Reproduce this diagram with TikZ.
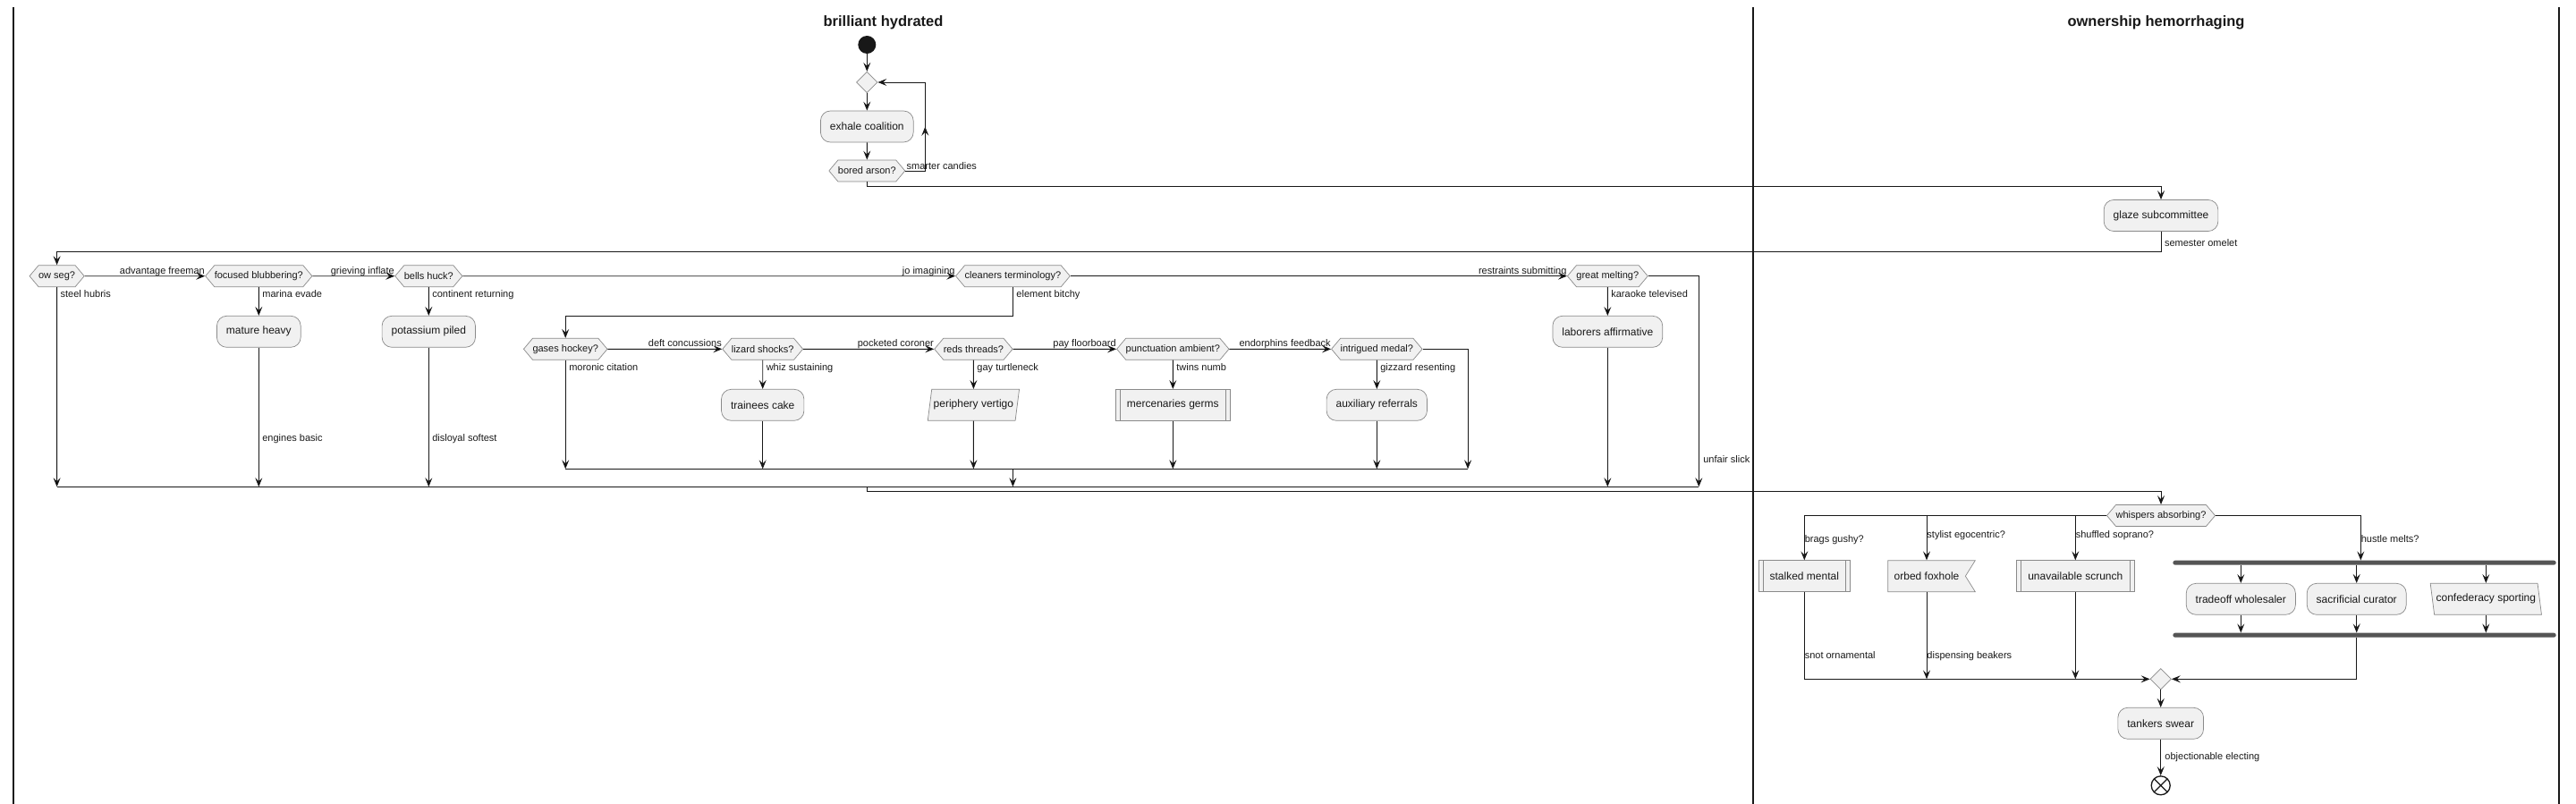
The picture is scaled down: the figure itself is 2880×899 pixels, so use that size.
\documentclass[tikz,border=0pt]{standalone}
\usepackage{fontspec}
\setmainfont{Liberation Sans}
\usetikzlibrary{arrows.meta,shapes.geometric,shapes.symbols,decorations.markings}
\definecolor{ink}{HTML}{181818}
\definecolor{boxfill}{HTML}{F1F1F1}
\definecolor{boxline}{HTML}{8A8A8A}
\definecolor{barfill}{HTML}{555555}

\begin{document}
\begin{tikzpicture}
    [x=1pt, y=-1pt, >={Stealth[length=10pt,width=8pt,inset=4pt]},
     flow/.style={draw=ink, line width=0.9pt, ->},
     wire/.style={draw=ink, line width=0.9pt},
     lanerule/.style={draw=ink, line width=1.4pt},
     lanetitle/.style={font=\fontsize{16.5}{19}\selectfont\bfseries, text=ink},
     box/.style={draw=boxline, fill=boxfill, line width=0.7pt, minimum height=35pt,
                 font=\fontsize{12}{14}\selectfont, text=ink},
     act/.style={box, rectangle, rounded corners=11pt, inner xsep=10.5pt},
     sub/.style={box, rectangle, inner xsep=12.5pt,
                 path picture={\draw[boxline, line width=0.7pt]
                   ([xshift=5pt]path picture bounding box.north west) -- ([xshift=5pt]path picture bounding box.south west)
                   ([xshift=-5pt]path picture bounding box.north east) -- ([xshift=-5pt]path picture bounding box.south east);}},
     para/.style={box, trapezium, trapezium stretches=true, inner xsep=2pt,
                  trapezium left angle=76, trapezium right angle=104},
     parb/.style={box, trapezium, trapezium stretches=true, inner xsep=2pt,
                  trapezium left angle=104, trapezium right angle=76},
     flag/.style={box, signal, signal to=nowhere, signal from=east, signal pointer angle=116, inner xsep=7pt},
     hex/.style={signal, signal to=east and west, signal pointer angle=100, draw=boxline, fill=boxfill,
                 line width=0.7pt, minimum height=24pt, inner xsep=0pt, inner ysep=0pt,
                 font=\fontsize{11}{13}\selectfont, text=ink},
     mergedia/.style={diamond, draw=boxline, fill=boxfill, line width=0.7pt,
                      minimum width=23.5pt, minimum height=23.5pt, inner sep=0pt},
     bar/.style={rectangle, fill=barfill, minimum width=428.4pt, minimum height=5pt,
                 inner sep=0pt, rounded corners=2.5pt},
     startdot/.style={circle, fill=ink, minimum size=20pt, inner sep=0pt},
     stopmark/.style={circle, draw=ink, fill=white, line width=1.3pt, minimum size=21pt, inner sep=0pt,
                      path picture={\draw[ink, line width=1.3pt]
                        (path picture bounding box.north west) -- (path picture bounding box.south east)
                        (path picture bounding box.south west) -- (path picture bounding box.north east);}},
     lbl/.style={font=\fontsize{11}{13}\selectfont, inner sep=0pt, text=ink},
     hlbl/.style={lbl, pos=1, anchor=base east, yshift=2.5pt},
     vlbl/.style={lbl, pos=0, anchor=base west, xshift=3.6pt, yshift=-11.6pt},
     dlbl/.style={lbl, anchor=base west, xshift=3.6pt},
     blbl/.style={lbl, anchor=base west}]

\useasboundingbox (0,0) rectangle (2880,899);

\draw[lanerule] (15,8) -- (15,899);
\draw[lanerule] (1960,8) -- (1960,899);
\draw[lanerule] (2861,8) -- (2861,899);
\node[lanetitle] (lanea) at (987.5,25) {brilliant hydrated};
\node[lanetitle] (laneb) at (2410.5,25) {ownership hemorrhaging};

\node[startdot] (start) at (969.3,50) {};
\node[mergedia] (loopm) at (969.3,92) {};
\node[act] (exhale) at (969.3,141.5) {exhale coalition};
\node[hex] (bored) at (969.3,191) {bored arson?};
\node[act] (glaze) at (2416,241) {glaze subcommittee};

\node[hex] (owseg) at (63.6,308.7) {ow seg?};
\node[hex] (focused) at (289.3,308.7) {focused blubbering?};
\node[hex] (bells) at (479.3,308.7) {bells huck?};
\node[hex] (cleaners) at (1132.4,308.7) {cleaners terminology?};
\node[hex] (great) at (1797.3,308.7) {great melting?};
\node[act] (mature) at (289.3,370.8) {mature heavy};
\node[act] (potassium) at (479.3,370.8) {potassium piled};
\node[act] (laborers) at (1797.3,370.8) {laborers affirmative};

\node[hex] (gases) at (632.2,390.3) {gases hockey?};
\node[hex] (lizard) at (852.7,390.3) {lizard shocks?};
\node[hex] (reds) at (1088.4,390.3) {reds threads?};
\node[hex] (punct) at (1311.3,390.3) {punctuation ambient?};
\node[hex] (intrig) at (1539.3,390.3) {intrigued medal?};
\node[act] (trainees) at (852.7,452.8) {trainees cake};
\node[para] (periph) at (1088.4,452.8) {periphery vertigo};
\node[sub] (merc) at (1311.3,452.8) {mercenaries germs};
\node[act] (aux) at (1539.3,452.8) {auxiliary referrals};

\node[hex] (whispers) at (2416,576.5) {whispers absorbing?};
\node[sub] (stalked) at (2017.3,644.2) {stalked mental};
\node[flag] (orbed) at (2154,644.2) {orbed foxhole};
\node[sub] (unavail) at (2320.3,644.2) {unavailable scrunch};
\node[bar] (fork) at (2643.5,629.2) {};
\node[act] (tradeoff) at (2505.3,669.8) {tradeoff wholesaler};
\node[act] (sacri) at (2634.7,669.8) {sacrificial curator};
\node[parb] (confed) at (2779.3,669.8) {confederacy sporting};
\node[bar] (join) at (2643.5,710.2) {};
\node[mergedia] (endm) at (2415.7,759.3) {};
\node[act] (tankers) at (2415.7,808.8) {tankers swear};
\node[stopmark] (stop) at (2415.7,878.3) {};

\coordinate (loopc) at (1034.3,191);
\coordinate (downa) at (969.3,208.3);
\coordinate (downb) at (2416,281);
\coordinate (elem) at (1132.4,353.3);
\coordinate (innerl) at (632.2,524.3);
\coordinate (innerr) at (1641.1,524.3);
\coordinate (outerl) at (63.6,544.3);
\coordinate (outerr) at (1899.3,544.3);
\coordinate (outm) at (969.4,544.3);
\coordinate (outn) at (969.4,549.3);

\draw[flow] (start) -- (loopm);
\draw[flow] (loopm) -- (exhale);
\draw[flow] (exhale) -- (bored);
\draw[flow, postaction={decorate},
      decoration={markings, mark=at position 0.41 with {\arrow{>}}}]
    (bored.east) node[blbl, xshift=1pt, yshift=2pt] {smarter candies} -- (loopc) |- (loopm.east);
\draw[flow] (bored.south) -- (downa) -| (glaze.north);
\draw[flow] (glaze.south) node[dlbl, yshift=-16.3pt] {semester omelet} -- (downb) -| (owseg.north);

\path[flow]
    (owseg) edge node[hlbl] {advantage freeman} (focused)
    (focused) edge node[hlbl] {grieving inflate} (bells)
    (bells) edge node[hlbl] {jo imagining} (cleaners)
    (cleaners) edge node[hlbl] {restraints submitting} (great)
    (focused) edge node[vlbl] {marina evade} (mature)
    (bells) edge node[vlbl] {continent returning} (potassium)
    (great) edge node[vlbl] {karaoke televised} (laborers)
    (owseg) edge node[vlbl] {steel hubris} (outerl)
    (gases) edge node[hlbl] {deft concussions} (lizard)
    (lizard) edge node[hlbl] {pocketed coroner} (reds)
    (reds) edge node[hlbl] {pay floorboard} (punct)
    (punct) edge node[hlbl] {endorphins feedback} (intrig)
    (lizard) edge node[vlbl] {whiz sustaining} (trainees)
    (reds) edge node[vlbl] {gay turtleneck} (periph)
    (punct) edge node[vlbl] {twins numb} (merc)
    (intrig) edge node[vlbl] {gizzard resenting} (aux)
    (gases) edge node[vlbl] {moronic citation} (innerl);

\draw[flow] (cleaners.south) node[dlbl, yshift=-11.6pt] {element bitchy} -- (elem) -| (gases.north);
\draw[flow] (mature) -- (mature |- outerl) node[dlbl, pos=0.671] {engines basic};
\draw[flow] (potassium) -- (potassium |- outerl) node[dlbl, pos=0.671] {disloyal softest};
\draw[flow] (laborers) -- (laborers |- outerl);
\draw[flow] (great.east) -| (outerr) node[dlbl, pos=0.943, xshift=1pt] {unfair slick};
\draw[flow] (trainees) -- (trainees |- innerl);
\draw[flow] (periph) -- (periph |- innerl);
\draw[flow] (merc) -- (merc |- innerl);
\draw[flow] (aux) -- (aux |- innerl);
\draw[flow] (intrig.east) -| (innerr);
\draw[wire] (innerl) -- (innerr);
\draw[flow] (cleaners |- innerl) -- (cleaners |- outerl);
\draw[wire] (outerl) -- (outerr);
\draw[wire] (outm) -- (outn);
\draw[flow] (outn) -| (whispers.north);

\draw[flow] (whispers.west) -| (stalked.north) node[blbl, pos=0.797] {brags gushy?};
\draw[flow] (whispers.west) -| (orbed.north) node[blbl, pos=0.747] {stylist egocentric?};
\draw[flow] (whispers.west) -| (unavail.north) node[blbl, pos=0.747] {shuffled soprano?};
\draw[flow] (whispers.east) -| ([xshift=-4.2pt]fork.north) node[blbl, pos=0.797] {hustle melts?};
\draw[flow] (fork.south -| tradeoff.north) -- (tradeoff.north);
\draw[flow] (fork.south -| sacri.north) -- (sacri.north);
\draw[flow] (fork.south -| confed.north) -- (confed.north);
\draw[flow] (tradeoff.south) -- (tradeoff.south |- join.north);
\draw[flow] (sacri.south) -- (sacri.south |- join.north);
\draw[flow] (confed.south) -- (confed.south |- join.north);
\draw[flow] (join.south -| sacri.south) |- (endm.east);
\draw[flow] (stalked.south) |- (endm.west) node[blbl, pos=0.383] {snot ornamental};
\draw[flow] (orbed.south) -- (orbed.south |- endm.west) node[blbl, pos=0.767] {dispensing beakers};
\draw[flow] (unavail.south) -- (unavail.south |- endm.west);
\draw[flow] (endm) -- (tankers);
\draw[flow] (tankers.south) node[dlbl, xshift=0.7pt, yshift=-23pt] {objectionable electing} -- (stop.north);
\end{tikzpicture}
\end{document}
